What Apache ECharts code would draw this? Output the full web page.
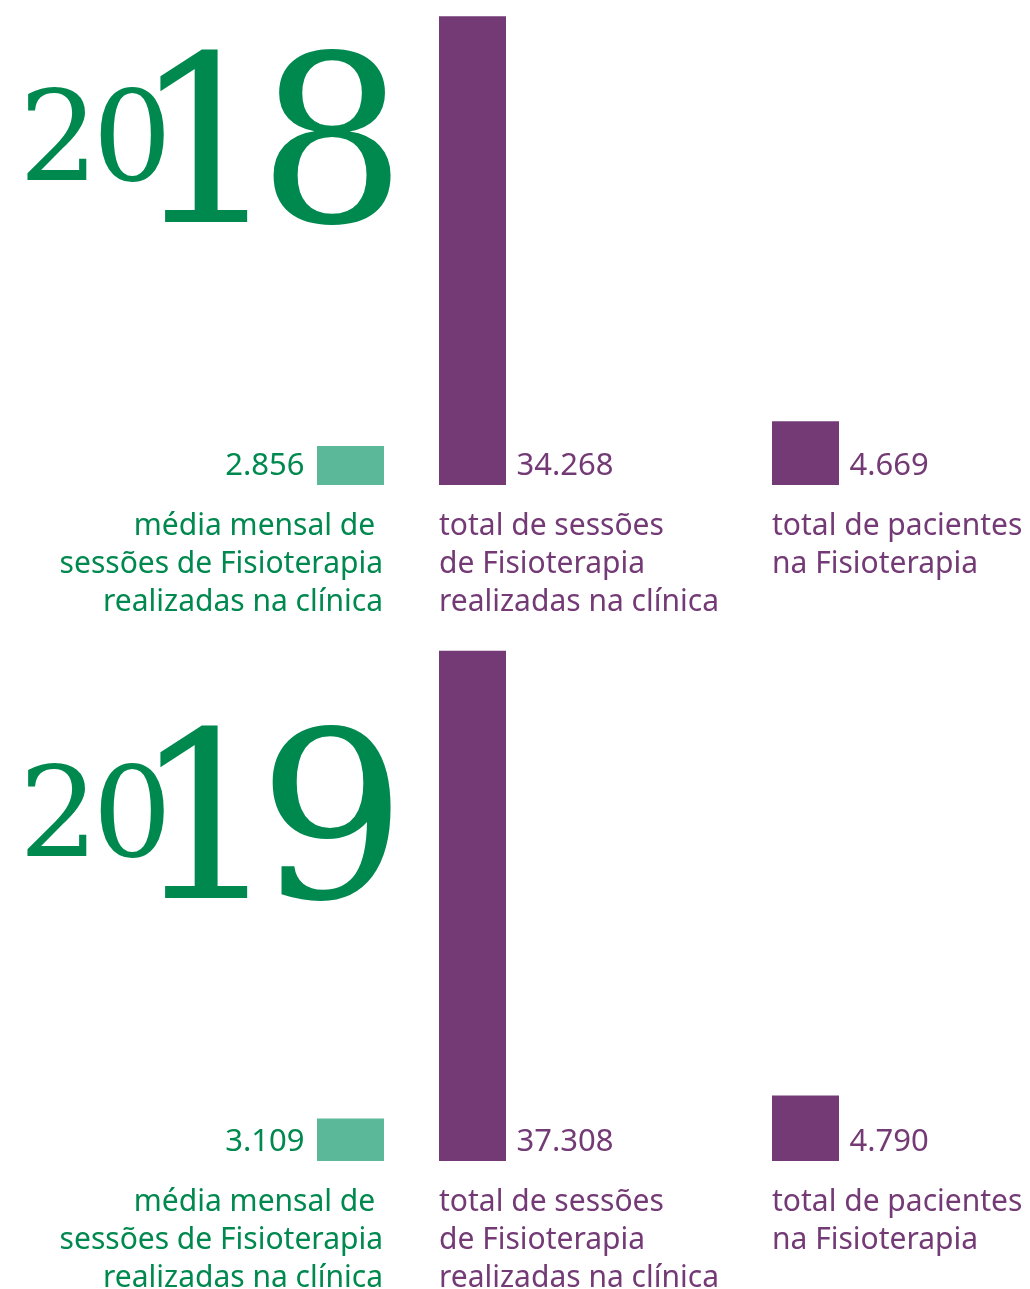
<!DOCTYPE html>
<html>
<head>
<meta charset="utf-8">
<script src="https://cdn.jsdelivr.net/npm/echarts@6/dist/echarts.min.js"></script>
<style>
  html, body { margin: 0; padding: 0; background: #fff; }
  #chart { width: 1030px; height: 1289px; }
</style>
</head>
<body>
<div id="chart"></div>
<script>
// dados
const years = ['2018', '2019']
const mediaMensal = [2856, 3109]
const totalSessoes = [34268, 37308]
const totalPacientes = [4669, 4790]
const descMedia = ['média mensal de ', 'sessões de Fisioterapia', 'realizadas na clínica']
const descSessoes = ['total de sessões', 'de Fisioterapia', 'realizadas na clínica']
const descPacientes = ['total de pacientes', 'na Fisioterapia']

const GREEN = '#00894f'
const GREEN_BAR = '#5bb99a'
const PURPLE = '#733a75'
const SANS = '"Noto Sans", sans-serif'
const SERIF = '"DejaVu Serif", serif'

const UNITS_PER_PX = 73.1
const BAR_W = 67
const baselines = [485, 1161]
const yMax = [35000, 38000]

const columns = [
  { left: 317, values: mediaMensal, bar: GREEN_BAR, text: GREEN, side: 'left', desc: descMedia, descX: 383, descAlign: 'right' },
  { left: 439, values: totalSessoes, bar: PURPLE, text: PURPLE, side: 'right', desc: descSessoes, descX: 439, descAlign: 'left' },
  { left: 772, values: totalPacientes, bar: PURPLE, text: PURPLE, side: 'right', desc: descPacientes, descX: 772, descAlign: 'left' }
]

const fmt = v => String(v).replace(/\B(?=(\d{3})+(?!\d))/g, '.')

const grid = [], xAxis = [], yAxis = [], series = [], graphic = []

years.forEach((year, i) => {
  const h = yMax[i] / UNITS_PER_PX
  columns.forEach((col, j) => {
    const idx = grid.length
    grid.push({ left: col.left, width: BAR_W, top: baselines[i] - h, height: h, containLabel: false, outerBoundsMode: 'none' })
    xAxis.push({ type: 'category', gridIndex: idx, data: [year], show: false })
    yAxis.push({ type: 'value', gridIndex: idx, min: 0, max: yMax[i], show: false })
    series.push({
      type: 'bar',
      xAxisIndex: idx,
      yAxisIndex: idx,
      data: [col.values[i]],
      barWidth: BAR_W,
      silent: true,
      itemStyle: { color: col.bar },
      label: {
        show: true,
        position: 'insideBottom',
        distance: 0,
        align: col.side === 'left' ? 'right' : 'left',
        offset: [col.side === 'left' ? -46 : 44, -3],
        color: col.text,
        fontFamily: SANS,
        fontSize: 31,
        textBorderWidth: 0,
        formatter: p => fmt(p.value)
      }
    })
    graphic.push({
      type: 'text',
      x: col.descX,
      y: baselines[i] + 22,
      silent: true,
      style: {
        text: col.desc.join('\n'),
        fill: col.text,
        font: '30px ' + SANS,
        lineHeight: 38,
        align: col.descAlign,
        verticalAlign: 'top'
      }
    })
  })
  // ano: "20" pequeno + dois últimos dígitos grandes, com espaçamento apertado
  const off = baselines[i] - baselines[0]
  graphic.push({
    type: 'text', x: 19, y: 210 + off, silent: true,
    style: {
      text: '{a|' + year[0] + '}{b|' + year[1] + '}',
      fill: GREEN, align: 'left', verticalAlign: 'bottom',
      rich: {
        a: { width: 73.5, fontSize: 125, fontFamily: SERIF, color: GREEN },
        b: { fontSize: 125, fontFamily: SERIF, color: GREEN }
      }
    }
  })
  graphic.push({
    type: 'text', x: 132, y: 278 + off, silent: true,
    style: {
      text: '{a|' + year[2] + '}{b|' + year[3] + '}',
      fill: GREEN, align: 'left', verticalAlign: 'bottom',
      rich: {
        a: { width: 126, fontSize: 233, fontFamily: SERIF, color: GREEN },
        b: { fontSize: 233, fontFamily: SERIF, color: GREEN }
      }
    }
  })
})

const chart = echarts.init(document.getElementById('chart'))
chart.setOption({
  animation: false,
  backgroundColor: '#fff',
  grid, xAxis, yAxis, series, graphic
})
</script>
</body>
</html>
